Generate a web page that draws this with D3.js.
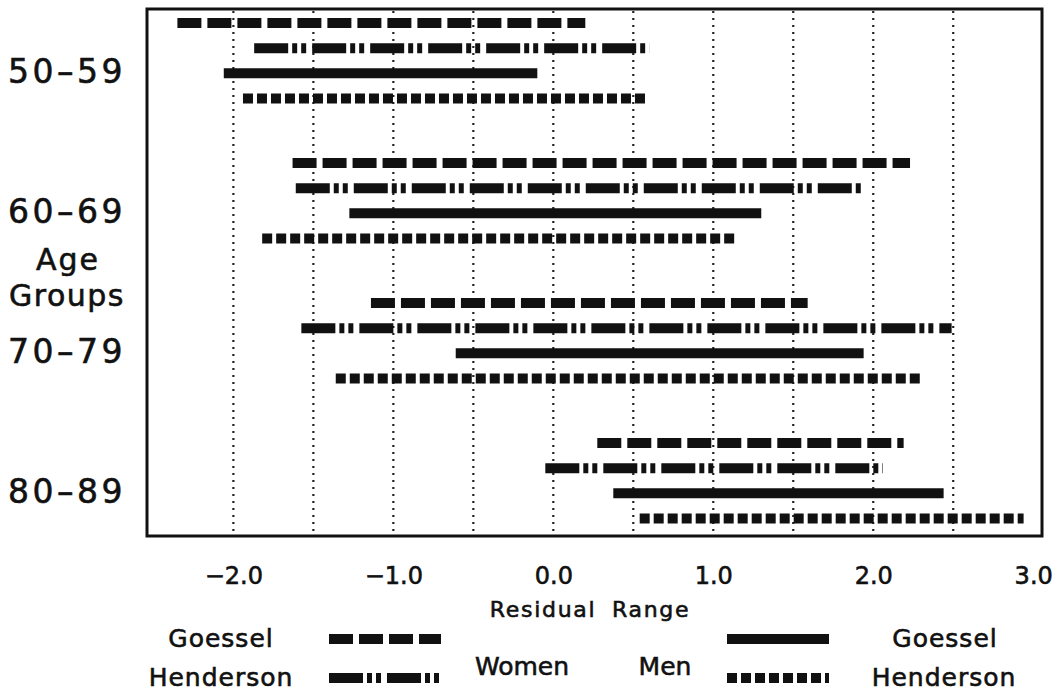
<!DOCTYPE html><html lang="en">
<head>
  <meta charset="UTF-8">
  <title>Residual Range by Age Group</title>
  <script src="https://d3js.org/d3.v7.min.js"></script>
  <style>
    body {
      margin: 0;
      background: white;
      font-family: "DejaVu Sans", sans-serif;
    }
    svg text {
      fill: #111;
      stroke: #111;
      stroke-width: 0.6px;
    }
    .grid {
      stroke: #222;
      stroke-width: 2.2;
      stroke-dasharray: 2 5;
    }
    .range {
      fill: none;
      stroke: #111;
      stroke-width: 10;
    }
    .frame {
      fill: none;
      stroke: #111;
      stroke-width: 3;
    }
  </style>
</head>
<body>
<svg width="1064" height="693"></svg>
<script>
// age groups and the four range series (start, end) for each group
const groups = ["50-59", "60-69", "70-79", "80-89"];
const series = ["Women Goessel", "Women Henderson", "Men Goessel", "Men Henderson"];

const womenGoessel   = [[-2.35, 0.20], [-1.63, 2.23], [-1.14, 1.59], [0.275, 2.19]];
const womenHenderson = [[-1.87, 0.60], [-1.61, 1.93], [-1.575, 2.49], [-0.05, 2.06]];
const menGoessel     = [[-2.06, -0.10], [-1.275, 1.30], [-0.61, 1.94], [0.375, 2.44]];
const menHenderson   = [[-1.94, 0.59], [-1.82, 1.15], [-1.36, 2.31], [0.54, 2.94]];

const xTicks = [-2, -1, 0, 1, 2, 3];
const gridValues = [-2, -1.5, -1, -0.5, 0, 0.5, 1, 1.5, 2, 2.5];

const seriesValues = {
  "Women Goessel": womenGoessel,
  "Women Henderson": womenHenderson,
  "Men Goessel": menGoessel,
  "Men Henderson": menHenderson
};

// line styles per series
const dashes = {
  "Women Goessel": "24 6",
  "Women Henderson": "34 4 5 4 5 6",
  "Men Goessel": null,
  "Men Henderson": "10 4"
};

const frame = { left: 147, right: 1042, top: 9, bottom: 536 };

const svg = d3.select("svg");

const x = d3.scaleLinear()
  .domain([-2.54, 3.055])
  .range([frame.left, frame.right]);

const yGroup = d3.scalePoint()
  .domain(groups)
  .range([23, 443]);

const yInner = d3.scalePoint()
  .domain(series)
  .range([0, 75.5]);

// dotted gridlines
svg.append("g")
  .selectAll("line")
  .data(gridValues)
  .enter()
  .append("line")
  .attr("class", "grid")
  .attr("x1", d => x(d))
  .attr("x2", d => x(d))
  .attr("y1", frame.top + 2)
  .attr("y2", frame.bottom - 2);

// range lines
const rows = [];
groups.forEach((g, gi) => {
  series.forEach(s => {
    const v = seriesValues[s][gi];
    rows.push({ group: g, series: s, start: v[0], end: v[1] });
  });
});

svg.append("g")
  .selectAll("line")
  .data(rows)
  .enter()
  .append("line")
  .attr("class", "range")
  .attr("x1", d => x(d.start))
  .attr("x2", d => x(d.end))
  .attr("y1", d => yGroup(d.group) + yInner(d.series))
  .attr("y2", d => yGroup(d.group) + yInner(d.series))
  .attr("stroke-dasharray", d => dashes[d.series]);

// frame
svg.append("rect")
  .attr("class", "frame")
  .attr("x", frame.left)
  .attr("y", frame.top)
  .attr("width", frame.right - frame.left)
  .attr("height", frame.bottom - frame.top);

// x axis labels
const xAxis = d3.axisBottom(x)
  .tickValues(xTicks)
  .tickSize(0)
  .tickPadding(31)
  .tickFormat(d3.format(".1f"));

const ax = svg.append("g")
  .attr("transform", `translate(0,${frame.bottom})`)
  .call(xAxis);
ax.select(".domain").remove();
ax.selectAll("text")
  .style("font-family", "DejaVu Sans")
  .style("font-size", "24px")
  .style("fill", "#111");

svg.append("text")
  .attr("x", 590)
  .attr("y", 617)
  .attr("text-anchor", "middle")
  .style("font-size", "22px")
  .style("letter-spacing", "1.7px")
  .style("word-spacing", "7px")
  .text("Residual Range");

// group labels, level with the Men Goessel row
svg.append("g")
  .selectAll("text")
  .data(groups)
  .enter()
  .append("text")
  .attr("x", 67)
  .attr("y", d => yGroup(d) + yInner("Men Goessel") + 10)
  .attr("text-anchor", "middle")
  .style("font-size", "33px")
  .style("letter-spacing", "3.5px")
  .text(d => d.replace("-", "–"));

svg.append("text")
  .attr("x", 68)
  .attr("y", 270)
  .attr("text-anchor", "middle")
  .style("font-size", "30px")
  .style("letter-spacing", "2px")
  .text("Age");

svg.append("text")
  .attr("x", 67)
  .attr("y", 306)
  .attr("text-anchor", "middle")
  .style("font-size", "30px")
  .style("letter-spacing", "1.5px")
  .text("Groups");

// legend
const legend = svg.append("g");
const legendRows = [
  { series: "Women Goessel", label: "Goessel", lx: 221, sx: 329, w: 112, y: 639 },
  { series: "Women Henderson", label: "Henderson", lx: 221, sx: 329, w: 110, y: 678 },
  { series: "Men Goessel", label: "Goessel", lx: 945, sx: 727, w: 102, y: 639 },
  { series: "Men Henderson", label: "Henderson", lx: 944, sx: 727, w: 102, y: 678 }
];

legend.selectAll("line")
  .data(legendRows)
  .enter()
  .append("line")
  .attr("class", "range")
  .attr("stroke-width", 9)
  .attr("x1", d => d.sx)
  .attr("x2", d => d.sx + d.w)
  .attr("y1", d => d.y)
  .attr("y2", d => d.y)
  .attr("stroke-dasharray", d => dashes[d.series]);

legend.selectAll("text.entry")
  .data(legendRows)
  .enter()
  .append("text")
  .attr("class", "entry")
  .attr("x", d => d.lx)
  .attr("y", d => d.y + 8)
  .attr("text-anchor", "middle")
  .style("font-size", "25px")
  .style("letter-spacing", "1px")
  .text(d => d.label);

legend.append("text")
  .attr("x", 522)
  .attr("y", 675)
  .attr("text-anchor", "middle")
  .style("font-size", "25px")
  .text("Women");

legend.append("text")
  .attr("x", 665)
  .attr("y", 675)
  .attr("text-anchor", "middle")
  .style("font-size", "25px")
  .text("Men");
</script>
</body>
</html>
